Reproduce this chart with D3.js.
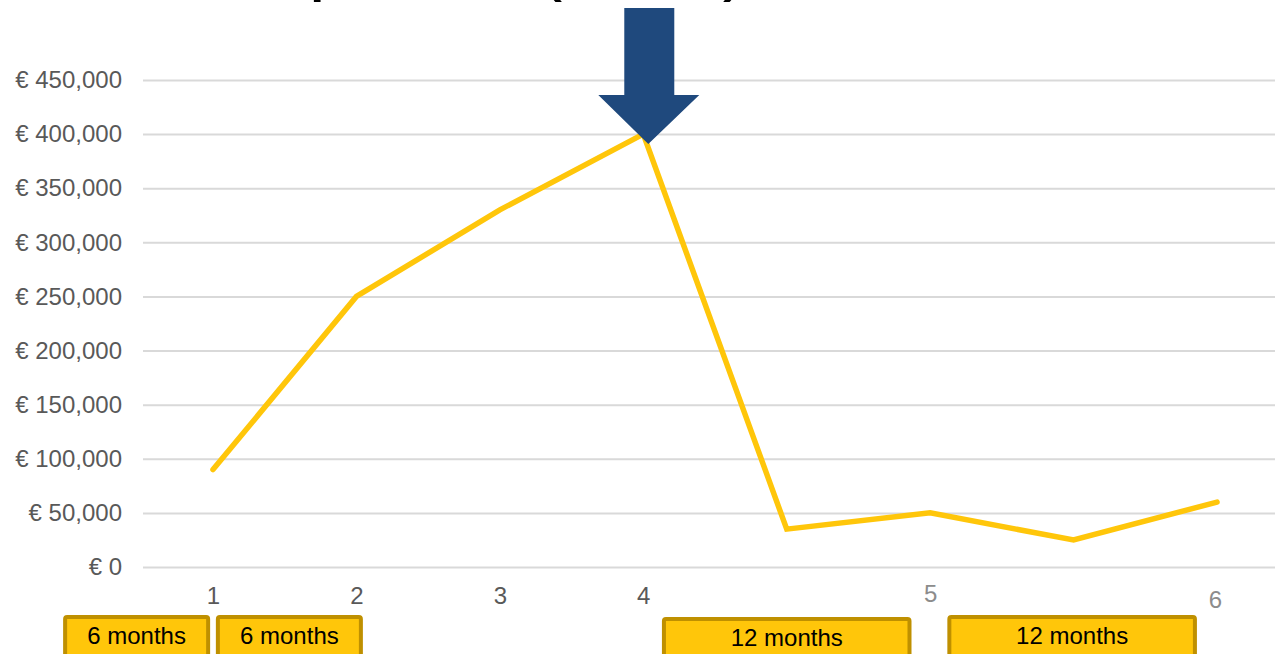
<!DOCTYPE html>
<html>
<head>
<meta charset="utf-8">
<script src="https://cdn.jsdelivr.net/npm/d3@7"></script>
<style>
    body { margin: 0; background: #fff; }
    svg { display: block; font-family: "Liberation Sans", Arial, sans-serif; }
</style>
</head>
<body>
<svg id="chart"></svg>
<script>
// values
const xLabels = ['1', '2', '3', '4', '', '5', '', '6']
const values = [90000, 250000, 330000, 400000, 35000, 50000, 25000, 60000]
const yTicks = [0, 50000, 100000, 150000, 200000, 250000, 300000, 350000, 400000, 450000]
const periodLabels = ['6 months', '6 months', '12 months', '12 months']
const periodStart = [-1.045, 0.02, 3.13, 5.12]
const periodEnd = [-0.02, 1.045, 4.87, 6.86]
const titleText = 'Investment phase (EUR)'

const width = 1275
const height = 654
const margin = { top: 80, right: 0, bottom: 87, left: 143 }

const lineColor = '#FFC60A'
const boxStroke = '#BF9000'
const arrowColor = '#1F497D'
const fontSize = '24px'

let svg = d3.select('#chart')
    .attr('width', width)
    .attr('height', height)

// x runs on the category index, points sit at 213 ... 1217
let xScale = d3.scaleLinear()
    .domain([0, xLabels.length - 1])
    .range([213, 1217])

let yScale = d3.scaleLinear()
    .domain([0, 450000])
    .range([height - margin.bottom, margin.top])

// title, almost all of it lies above the window
svg.append('text')
    .attr('x', 748)
    .attr('y', -14)
    .style('font-size', '76px')
    .style('text-anchor', 'end')
    .style('fill', '#000')
    .text(titleText)

// gridlines + y labels
let euro = d => '€ ' + d3.format(',')(d)
let yAxis = d3.axisLeft(yScale)
    .tickValues(yTicks)
    .tickFormat(euro)
    .tickSize(-(width - margin.left))
    .tickPadding(21)

let yAxisG = svg.append('g')
    .attr('class', 'axis')
    .attr('transform', 'translate(' + margin.left + ',0)')
    .call(yAxis)
yAxisG.select('.domain').remove()
yAxisG.selectAll('.tick line')
    .attr('stroke', '#d9d9d9')
    .attr('stroke-width', 2)
yAxisG.selectAll('.tick text')
    .style('font-size', fontSize)
    .style('font-family', '"Liberation Sans", Arial, sans-serif')
    .attr('fill', '#595959')

// x labels, the last two are a bit lighter and off line
let xAxis = d3.axisBottom(xScale)
    .tickValues(d3.range(xLabels.length))
    .tickFormat(i => xLabels[i])
    .tickSize(0)
    .tickPadding(0)

let xAxisG = svg.append('g')
    .attr('class', 'axis')
    .attr('transform', 'translate(0,' + (height - margin.bottom + 37) + ')')
    .call(xAxis)
xAxisG.select('.domain').remove()
xAxisG.selectAll('.tick text')
    .attr('dy', (d, i) => i == 5 ? -2 : (i == 7 ? 4 : 0))
    .attr('dx', (d, i) => i == 7 ? -2 : 0)
    .attr('fill', (d, i) => i >= 5 ? '#8c8c8c' : '#595959')
    .style('font-size', fontSize)
    .style('font-family', '"Liberation Sans", Arial, sans-serif')

// the series
let plotLine = d3.line()
    .x((d, i) => xScale(i))
    .y(d => yScale(d))

svg.append('path')
    .datum(values)
    .attr('d', plotLine)
    .attr('fill', 'none')
    .attr('stroke', lineColor)
    .attr('stroke-width', 5.5)
    .attr('stroke-linejoin', 'miter')
    .attr('stroke-linecap', 'round')

// arrow pointing at the peak
let peak = d3.maxIndex(values)
let tipX = xScale(peak) + 5
let tipY = yScale(values[peak]) + 10
let arrowPts = [
    [tipX - 24, 8], [tipX + 26, 8], [tipX + 26, tipY - 49],
    [tipX + 51, tipY - 49], [tipX, tipY], [tipX - 50, tipY - 49],
    [tipX - 24, tipY - 49]
]
svg.append('path')
    .attr('d', d3.line()(arrowPts) + 'Z')
    .attr('fill', arrowColor)

// duration boxes under the axis
let boxes = svg.selectAll('.period')
    .data(periodLabels)
    .enter()
    .append('g')
    .attr('class', 'period')

boxes.append('rect')
    .attr('x', (d, i) => xScale(periodStart[i]) + 2)
    .attr('y', (d, i) => i == 2 ? 619 : 617)
    .attr('width', (d, i) => xScale(periodEnd[i]) - xScale(periodStart[i]) - 4)
    .attr('height', 50)
    .attr('rx', 2)
    .attr('fill', lineColor)
    .attr('stroke', boxStroke)
    .attr('stroke-width', 4)

boxes.append('text')
    .attr('x', (d, i) => (xScale(periodStart[i]) + xScale(periodEnd[i])) / 2)
    .attr('y', (d, i) => i == 2 ? 646 : 644)
    .style('text-anchor', 'middle')
    .style('font-size', fontSize)
    .style('fill', '#000')
    .text(d => d)
</script>
</body>
</html>
